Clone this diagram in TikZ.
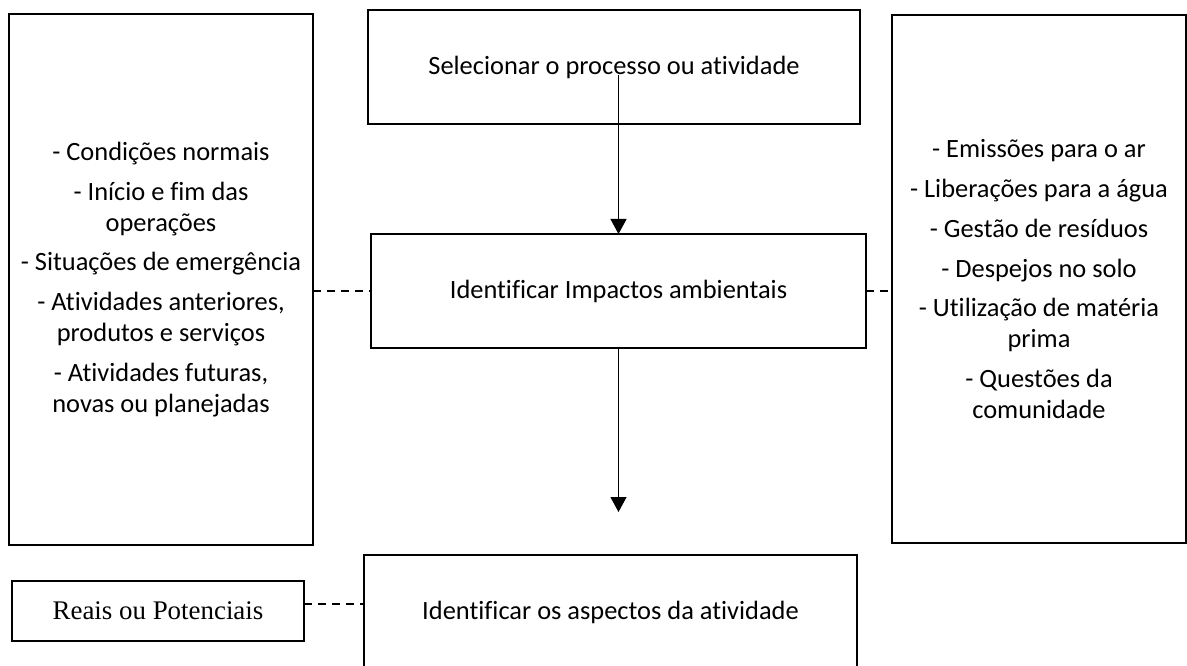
\documentclass[tikz,border=0pt]{standalone}
\usepackage{fontspec}
\setmainfont{Carlito}[Ligatures={NoCommon}]
\newfontfamily\serifbox{Liberation Serif}
\usetikzlibrary{arrows.meta}

\begin{document}
\begin{tikzpicture}[x=1bp, y=-1bp,
  caixa/.style={draw, line width=2.4bp, inner sep=0pt, outer sep=0pt, align=center, font=\fontsize{26.5}{31}\selectfont},
  tracejado/.style={line width=1.5bp, dash pattern=on 8bp off 6bp},
  seta/.style={line width=1.2bp, -{Triangle[width=16bp, length=15bp]}}]
\useasboundingbox (0, 0) rectangle (1187, 666);

\node (condicoes) [caixa, minimum width=304bp, minimum height=531bp] at (161, 279.5)
  {- Condições normais\\[9bp]- Início e fim das\\operações\\[9bp]- Situações de emergência\\[9bp]- Atividades anteriores,\\produtos e serviços\\[9bp]- Atividades futuras,\\novas ou planejadas};
\node (emissoes) [caixa, minimum width=294bp, minimum height=528bp] at (1039, 279)
  {- Emissões para o ar\\[9bp]- Liberações para a água\\[9bp]- Gestão de resíduos\\[9bp]- Despejos no solo\\[9bp]- Utilização de matéria\\prima\\[9bp]- Questões da\\comunidade};

\node (topo) [caixa, minimum width=492bp, minimum height=114bp] at (614, 67) {Selecionar o processo ou atividade};
\node (meio) [caixa, minimum width=495bp, minimum height=114bp] at (618.5, 291) {Identificar Impactos ambientais};
\node (aspectos) [caixa, minimum width=493bp, minimum height=114bp] at (610.5, 612) {Identificar os aspectos da atividade};
\node (reais) [caixa, minimum width=292bp, minimum height=60bp, font=\serifbox\fontsize{27}{31}\selectfont] at (158, 611) {Reais ou Potenciais};

\path (topo.center -| meio.north) ++(0, 8) coordinate (inicio);
\draw [seta] (inicio) -- (meio.north);
\path (meio.south) ++(0, 164) coordinate (ponta);
\draw [seta] (meio.south) -- (ponta);

\draw [tracejado] (condicoes.east |- meio.west) -- (meio.west);
\draw [tracejado] (meio.east) -- (meio.east -| emissoes.west);
\draw [tracejado] (reais.east) ++(0, -7) coordinate (saida) -- (saida -| aspectos.west);
\end{tikzpicture}
\end{document}
